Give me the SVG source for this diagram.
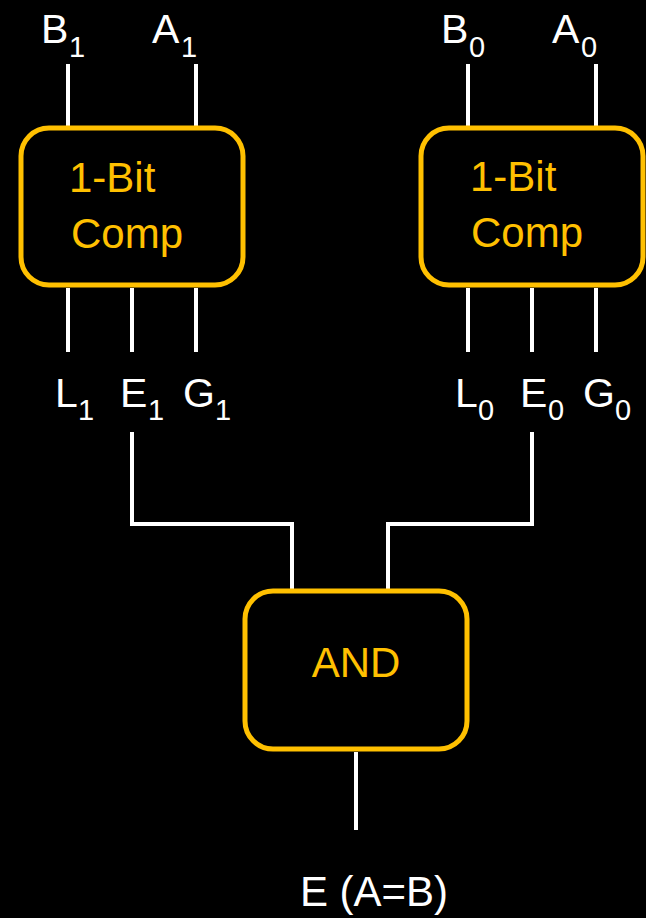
<svg xmlns="http://www.w3.org/2000/svg" width="646" height="918" viewBox="0 0 646 918">
<style>
.box{fill:#000;stroke:#FFC000;stroke-width:5}
.w{stroke:#FFF;stroke-width:4;fill:none}
.lab{font-family:"Liberation Sans",Arial,sans-serif;font-size:41px;fill:#FFF}
.sub{font-size:29px}
.out{font-size:42px}
.in{font-family:"Liberation Sans",Arial,sans-serif;font-size:42px;fill:#FFC000}
</style>
<rect width="646" height="918" fill="#000"/>
<g id="comp1">
<line class="w" x1="68" y1="64" x2="68" y2="127"/>
<line class="w" x1="196" y1="64" x2="196" y2="127"/>
<line class="w" x1="68" y1="288" x2="68" y2="352"/>
<line class="w" x1="132" y1="288" x2="132" y2="352"/>
<line class="w" x1="196" y1="288" x2="196" y2="352"/>
<rect class="box" x="21" y="128" width="222" height="157" rx="28"/>
<text class="in" x="69" y="192">1-Bit</text>
<text class="in" x="71" y="248">Comp</text>
<text class="lab" x="41" y="43">B</text><text class="lab sub" x="69" y="57">1</text>
<text class="lab" x="152" y="43">A</text><text class="lab sub" x="181" y="57">1</text>
<text class="lab" x="55" y="407">L</text><text class="lab sub" x="78" y="420">1</text>
<text class="lab" x="120" y="407">E</text><text class="lab sub" x="148" y="420">1</text>
<text class="lab" x="183" y="407">G</text><text class="lab sub" x="215" y="420">1</text>
</g>
<g id="comp0">
<line class="w" x1="468" y1="64" x2="468" y2="127"/>
<line class="w" x1="596" y1="64" x2="596" y2="127"/>
<line class="w" x1="468" y1="288" x2="468" y2="352"/>
<line class="w" x1="532" y1="288" x2="532" y2="352"/>
<line class="w" x1="596" y1="288" x2="596" y2="352"/>
<rect class="box" x="421" y="128" width="222" height="157" rx="28"/>
<text class="in" x="470" y="191">1-Bit</text>
<text class="in" x="471" y="247">Comp</text>
<text class="lab" x="441" y="43">B</text><text class="lab sub" x="469" y="57">0</text>
<text class="lab" x="552" y="43">A</text><text class="lab sub" x="581" y="57">0</text>
<text class="lab" x="455" y="407">L</text><text class="lab sub" x="478" y="420">0</text>
<text class="lab" x="520" y="407">E</text><text class="lab sub" x="548" y="420">0</text>
<text class="lab" x="583" y="407">G</text><text class="lab sub" x="615" y="420">0</text>
</g>
<g id="connectors">
<path class="w" d="M132 432 V524 H292 V590"/>
<path class="w" d="M532 432 V524 H388 V590"/>
<path class="w" d="M356 752 V830"/>
</g>
<g id="and">
<rect class="box" x="245" y="591" width="222" height="158" rx="28"/>
<text class="in" x="356" y="677" text-anchor="middle">AND</text>
</g>
<g id="output">
<text class="lab out" x="374" y="906" text-anchor="middle">E (A=B)</text>
</g>
</svg>
